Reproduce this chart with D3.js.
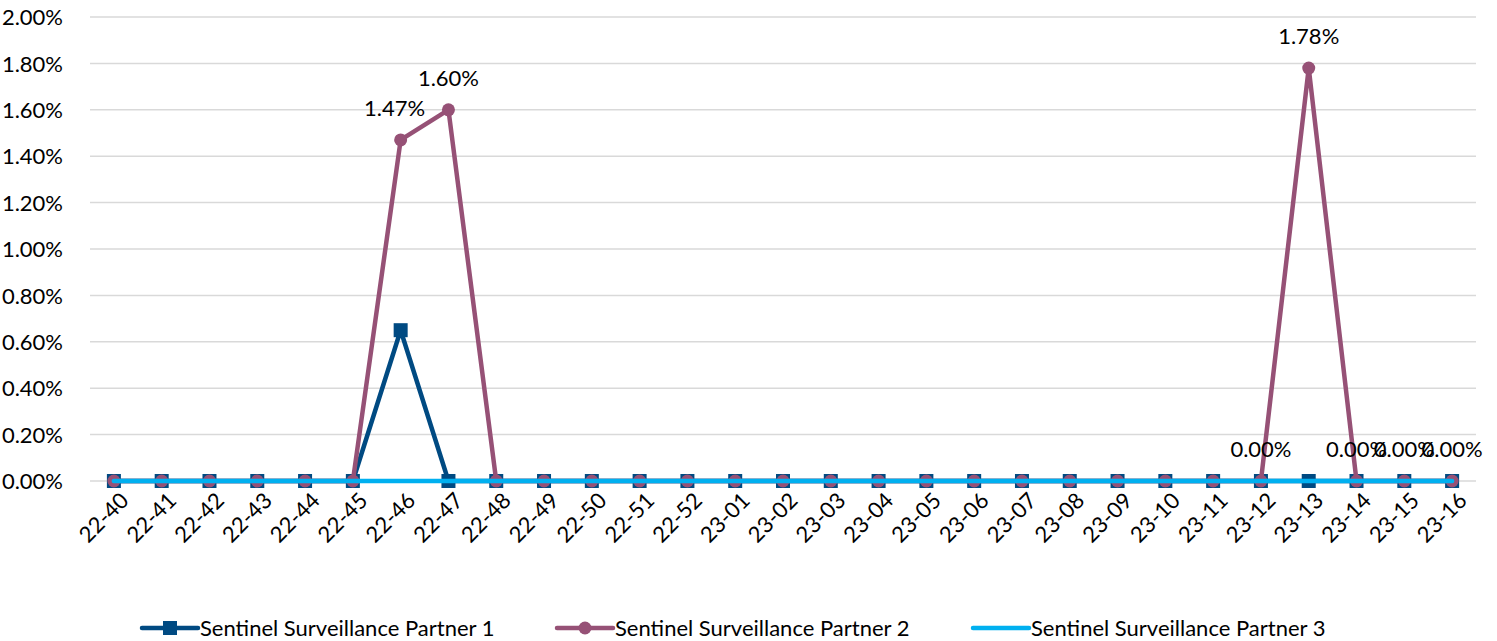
<!DOCTYPE html>
<html>
<head>
<meta charset="utf-8">
<script src="https://cdn.jsdelivr.net/npm/d3@7"></script>
<style>
  body { margin: 0; background: #fff; }
  text { font-family: Lato, "Open Sans", "Liberation Sans", sans-serif; fill: #000; }
</style>
</head>
<body>
<div id="chart"></div>
<script>
var weeks = ["22-40","22-41","22-42","22-43","22-44","22-45","22-46","22-47","22-48","22-49","22-50","22-51","22-52",
  "23-01","23-02","23-03","23-04","23-05","23-06","23-07","23-08","23-09","23-10","23-11","23-12","23-13","23-14","23-15","23-16"];
var partner1 = [0,0,0,0,0,0,0.0065,0,0,0,0,0,0,0,0,0,0,0,0,0,0,0,0,0,0,0,0,0,0];
var partner2 = [0,0,0,0,0,0,0.0147,0.0160,0,0,0,0,0,0,0,0,0,0,0,0,0,0,0,0,0,0.0178,0,0,0];
var partner3 = [0,0,0,0,0,0,0,0,0,0,0,0,0,0,0,0,0,0,0,0,0,0,0,0,0,0,0,0,0];
// which partner 2 points carry a value label
var labelled2 = ["22-46","22-47","23-12","23-13","23-14","23-15","23-16"];
var yTicks = [0,0.002,0.004,0.006,0.008,0.010,0.012,0.014,0.016,0.018,0.020];

var width = 1497, height = 641;
var margin = { left: 90, right: 21, top: 17, bottom: 160 };
var fs = "22px";

var svg = d3.select("#chart").append("svg")
  .attr("width", width)
  .attr("height", height);

var x = d3.scaleBand().domain(weeks).range([margin.left, width - margin.right]);
var y = d3.scaleLinear().domain([0, 0.02]).range([height - margin.bottom, margin.top]);
var cx = function (w) { return x(w) + x.bandwidth() / 2; };
var fmt = d3.format(".2%");

// grid
svg.append("g").selectAll("line").data(yTicks).enter().append("line")
  .attr("x1", margin.left).attr("x2", width - margin.right)
  .attr("y1", function (d) { return y(d); }).attr("y2", function (d) { return y(d); })
  .attr("stroke", "#d9d9d9").attr("stroke-width", 1.5);

// y axis labels
var yAxis = svg.append("g")
  .attr("transform", "translate(" + (margin.left - 24) + ",0)")
  .call(d3.axisLeft(y).tickValues(yTicks).tickFormat(fmt).tickSize(0));
yAxis.select(".domain").remove();
yAxis.selectAll("text").style("font-size", fs).attr("dy", "0.35em");

// x axis labels
var xAxis = svg.append("g")
  .attr("transform", "translate(0," + (y(0) + 8) + ")")
  .call(d3.axisBottom(x).tickSize(0));
xAxis.select(".domain").remove();
xAxis.selectAll("text")
  .style("font-size", fs)
  .style("text-anchor", "end")
  .attr("dx", "0.1em").attr("dy", "0.8em")
  .attr("transform", "rotate(-45)");

var line = d3.line().x(function (d, i) { return cx(weeks[i]); }).y(function (d) { return y(d); });

var series = [
  { name: "Sentinel Surveillance Partner 1", values: partner1, color: "#004a82", marker: "square" },
  { name: "Sentinel Surveillance Partner 2", values: partner2, color: "#965176", marker: "circle" },
  { name: "Sentinel Surveillance Partner 3", values: partner3, color: "#00b0f0", marker: "none" }
];

series.forEach(function (s) {
  var g = svg.append("g");
  g.append("path").datum(s.values)
    .attr("d", line).attr("fill", "none")
    .attr("stroke", s.color).attr("stroke-width", 4.5)
    .attr("stroke-linejoin", "round").attr("stroke-linecap", "round");
  if (s.marker === "square") {
    g.selectAll("rect").data(s.values).enter().append("rect")
      .attr("x", function (d, i) { return cx(weeks[i]) - 7; })
      .attr("y", function (d) { return y(d) - 7; })
      .attr("width", 14).attr("height", 14)
      .attr("fill", s.color);
  } else if (s.marker === "circle") {
    g.selectAll("circle").data(s.values).enter().append("circle")
      .attr("cx", function (d, i) { return cx(weeks[i]); })
      .attr("cy", function (d) { return y(d); })
      .attr("r", 6.5).attr("fill", s.color);
  }
});

// data labels for partner 2
svg.append("g").selectAll("text")
  .data(partner2.map(function (v, i) { return { w: weeks[i], v: v }; })
    .filter(function (d) { return labelled2.indexOf(d.w) >= 0; }))
  .enter().append("text")
  .attr("x", function (d) { return cx(d.w) + (d.w === "22-46" ? -6 : 0); })
  .attr("y", function (d) { return y(d.v) - 24; })
  .attr("text-anchor", "middle")
  .style("font-size", fs)
  .text(function (d) { return fmt(d.v); });

// legend
var legendX = [142, 557, 973];
var legend = svg.append("g").selectAll("g").data(series).enter().append("g")
  .attr("transform", function (d, i) { return "translate(" + legendX[i] + ",628)"; });
legend.append("line").attr("x1", 0).attr("x2", 56)
  .attr("stroke", function (d) { return d.color; })
  .attr("stroke-width", 4.5).attr("stroke-linecap", "round");
legend.filter(function (d) { return d.marker === "square"; }).append("rect")
  .attr("x", 21).attr("y", -7).attr("width", 14).attr("height", 14)
  .attr("fill", function (d) { return d.color; });
legend.filter(function (d) { return d.marker === "circle"; }).append("circle")
  .attr("cx", 28).attr("r", 6.5)
  .attr("fill", function (d) { return d.color; });
legend.append("text").attr("x", 58).attr("dy", "0.35em")
  .style("font-size", fs)
  .text(function (d) { return d.name; });
</script>
</body>
</html>
